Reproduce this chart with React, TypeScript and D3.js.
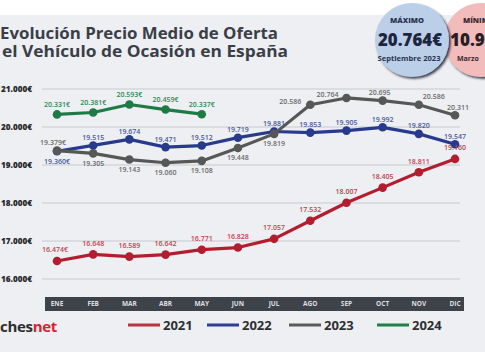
import React from "react";
import * as d3 from "d3";

const months = ["ENE", "FEB", "MAR", "ABR", "MAY", "JUN", "JUL", "AGO", "SEP", "OCT", "NOV", "DIC"];
const v2021 = [16474, 16648, 16589, 16642, 16771, 16828, 17057, 17532, 18007, 18405, 18811, 19160];
const v2022 = [19360, 19515, 19674, 19471, 19512, 19719, 19881, 19853, 19905, 19992, 19820, 19547];
const v2023 = [19379, 19305, 19143, 19060, 19108, 19448, 19819, 20586, 20764, 20695, 20586, 20311];
const v2024 = [20331, 20381, 20593, 20459, 20337];
const yTicks = [16000, 17000, 18000, 19000, 20000, 21000];
const legendYears = ["2021", "2022", "2023", "2024"];

const W = 485;
const H = 360;

const fmt = (v: number) => {
  const s = String(v);
  return s.slice(0, s.length - 3) + "." + s.slice(s.length - 3);
};

// label offsets (style only)
const off2021 = months.map((_, i) => (i === 0 ? [-2, -11] : [0, -11]));
const off2022 = months.map((_, i) => (i === 0 ? [0, 10] : [0, -8]));
const off2023 = [[-4, -8], [0, 10], [0, 10], [0, 10], [0, 10], [0, 10], [0, 10], [-20, -3], [-19, -3], [-3, -8], [15, -8], [3, -8]];
const off2024 = v2024.map(() => [0, -10]);

const series = [
  { name: "2021", values: v2021, line: "#b31d30", label: "#c2404f", offs: off2021, euroAll: false },
  { name: "2022", values: v2022, line: "#283a8c", label: "#4b5a9c", offs: off2022, euroAll: false },
  { name: "2023", values: v2023, line: "#575757", label: "#6b6b6b", offs: off2023, euroAll: false },
  { name: "2024", values: v2024, line: "#1e7b46", label: "#2e8a55", offs: off2024, euroAll: true },
];

const legendColors = ["#b8353f", "#2e3f8f", "#5a5a5a", "#1f8048"];

export default function App() {
  const x = d3.scalePoint<string>().domain(months).range([57, 455]);
  const y = d3.scaleLinear().domain([16000, 21000]).range([279, 89]);
  const line = d3
    .line<number>()
    .x((_, i) => x(months[i]) as number)
    .y((d) => y(d));

  const font = "'Open Sans', 'Noto Sans', sans-serif";

  return (
    <svg
      width={W}
      height={H}
      viewBox={`0 0 ${W} ${H}`}
      style={{ position: "absolute", left: 0, top: 0, display: "block" }}
      fontFamily={font}
    >
      <defs>
        <filter id="sh" x="-20%" y="-20%" width="150%" height="150%">
          <feDropShadow dx="1.8" dy="1.8" stdDeviation="0.8" floodColor="#1b2030" floodOpacity="0.85" />
        </filter>
      </defs>
      <rect x={0} y={0} width={W} height={H} fill="#ffffff" />
      <rect x={0} y={15} width={W} height={337} fill="#edeff2" />

      {/* Title */}
      <text x={0} y={38.5} fontSize={16} fontWeight={700} fill="#3a3e48" textLength={278} lengthAdjust="spacingAndGlyphs">
        Evolución Precio Medio de Oferta
      </text>
      <text x={2} y={57} fontSize={16} fontWeight={700} fill="#3a3e48" textLength={286} lengthAdjust="spacingAndGlyphs">
        el Vehículo de Ocasión en España
      </text>

      {/* Circles */}
      <g filter="url(#sh)">
        <circle cx={481} cy={40} r={37} fill="#f2bcbc" />
      </g>
      <text x={463} y={22.5} fontSize={7.5} fontWeight={800} fill="#3b2a30">MÍNIMO</text>
      <text x={450} y={46} fontSize={17} fontWeight={800} fill="#2a1e24">10.96</text>
      <text x={457} y={60.5} fontSize={7} fontWeight={700} fill="#3b2a30">Marzo</text>
      <g filter="url(#sh)">
        <circle cx={412} cy={40} r={37} fill="#bccfe9" />
      </g>
      <text x={407} y={22.5} fontSize={7.5} fontWeight={800} fill="#2b3550" textAnchor="middle">MÁXIMO</text>
      <text x={410} y={46} fontSize={17} fontWeight={800} fill="#1d2640" textAnchor="middle" textLength={64} lengthAdjust="spacingAndGlyphs">20.764€</text>
      <text x={409} y={60.5} fontSize={7} fontWeight={700} fill="#2b3550" textAnchor="middle" textLength={63} lengthAdjust="spacingAndGlyphs">Septiembre 2023</text>

      {/* Grid & y labels */}
      {yTicks.map((t) => (
        <g key={t}>
          <line x1={42} x2={460} y1={y(t)} y2={y(t)} stroke="#c6c9ce" strokeWidth={1} />
          <text x={32} y={y(t)} dy="0.35em" fontSize={8.5} fontWeight={800} fill="#2a2a2e" textAnchor="end" textLength={31} lengthAdjust="spacingAndGlyphs">
            {fmt(t) + "€"}
          </text>
        </g>
      ))}

      {/* Month band */}
      <rect x={45} y={297} width={419} height={14} fill="#3e4349" />
      {months.map((m) => (
        <text key={m} x={x(m)} y={304} dy="0.35em" fontSize={6.5} fontWeight={700} fill="#dedfe1" textAnchor="middle">
          {m}
        </text>
      ))}

      {/* Series */}
      {series.map((s) => (
        <g key={s.name}>
          <path d={line(s.values) || ""} fill="none" stroke={s.line} strokeWidth={3.2} strokeLinejoin="round" />
          {s.values.map((v, i) => (
            <circle key={i} cx={x(months[i])} cy={y(v)} r={4.3} fill={s.line} />
          ))}
        </g>
      ))}
      {series.map((s) => (
        <g key={s.name + "l"}>
          {s.values.map((v, i) => (
            <text
              key={i}
              x={(x(months[i]) as number) + s.offs[i][0]}
              y={y(v) + s.offs[i][1]}
              dy="0.35em"
              fontSize={7}
              fontWeight={600}
              fill={s.label}
              textAnchor="middle"
            >
              {fmt(v) + (s.euroAll || i === 0 ? "€" : "")}
            </text>
          ))}
        </g>
      ))}

      {/* Logo */}
      <text x={0} y={332} fontSize={15} fontWeight={700} letterSpacing={-0.3}>
        <tspan fill="#2d2d30">ches</tspan>
        <tspan fill="#d9232d">net</tspan>
      </text>

      {/* Legend */}
      {legendYears.map((yr, i) => {
        const lx = [128, 207, 289, 377][i];
        return (
          <g key={yr}>
            <line x1={lx} x2={lx + 32} y1={325} y2={325} stroke={legendColors[i]} strokeWidth={3} />
            <text x={lx + 35} y={325} dy="0.35em" fontSize={13} fontWeight={700} fill="#2e2f33">
              {yr}
            </text>
          </g>
        );
      })}
    </svg>
  );
}
